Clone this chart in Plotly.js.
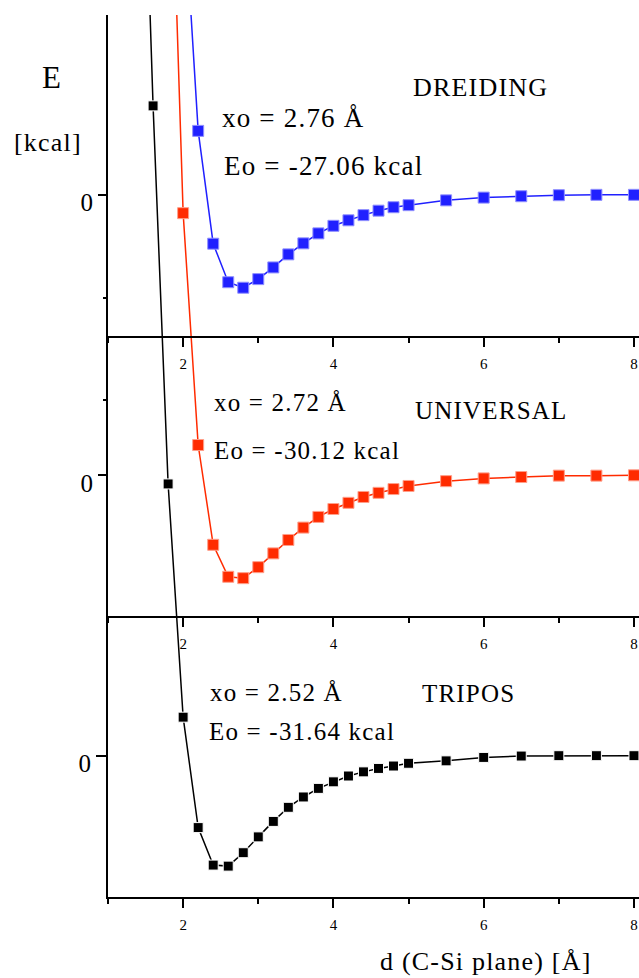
<!DOCTYPE html>
<html>
<head>
<meta charset="utf-8">
<script src="https://cdn.plot.ly/plotly-3.0.1.min.js"></script>
<style>
  html, body { margin: 0; padding: 0; background: #fff; }
  #chart { width: 639px; height: 978px; }
  .annotation-text { letter-spacing: 1.2px; }
</style>
</head>
<body>
<div id="chart"></div>
<script>
// ---- data: distance d (C-Si plane) [Å] and energy E [kcal] ----
const dTripos = [1.4, 1.6, 1.8, 2.0, 2.2, 2.4, 2.6, 2.8, 3.0, 3.2, 3.4, 3.6, 3.8, 4.0, 4.2, 4.4, 4.6, 4.8, 5.0, 5.5, 6.0, 6.5, 7.0, 7.5, 8.0];
const eTripos = [322, 188.9, 79.0, 11.2, -20.9, -31.8, -32.1, -28.2, -23.6, -19.1, -15.0, -12.0, -9.5, -7.6, -5.9, -4.7, -3.7, -3.0, -2.2, -1.5, -0.5, -0.1, 0, 0, 0];

const dUniversal = [1.8, 2.0, 2.2, 2.4, 2.6, 2.8, 3.0, 3.2, 3.4, 3.6, 3.8, 4.0, 4.2, 4.4, 4.6, 4.8, 5.0, 5.5, 6.0, 6.5, 7.0, 7.5, 8.0];
const eUniversal = [213, 76.2, 8.8, -20.2, -29.5, -29.9, -26.7, -22.7, -18.8, -15.2, -12.1, -9.8, -8.0, -6.3, -5.1, -4.0, -3.1, -1.7, -0.9, -0.5, -0.1, -0.1, 0];

const dDreiding = [2.0, 2.2, 2.4, 2.6, 2.8, 3.0, 3.2, 3.4, 3.6, 3.8, 4.0, 4.2, 4.4, 4.6, 4.8, 5.0, 5.5, 6.0, 6.5, 7.0, 7.5, 8.0];
const eDreiding = [89.5, 18.5, -14.3, -25.5, -27.1, -24.6, -21.2, -17.4, -14.2, -11.3, -9.1, -7.5, -6.0, -4.7, -3.7, -3.1, -1.7, -0.9, -0.5, -0.2, -0.1, -0.1];

const panelNames = ['DREIDING', 'UNIVERSAL', 'TRIPOS'];
const xoLabels = ['xo = 2.76 Å', 'xo = 2.72 Å', 'xo = 2.52 Å'];
const eoLabels = ['Eo = -27.06 kcal', 'Eo = -30.12 kcal', 'Eo = -31.64 kcal'];
const xTickVals = [2, 4, 6, 8];
const xTitle = 'd (C-Si plane) [Å]';
const yTitleTop = 'E';
const yTitleUnit = '[kcal]';

// ---- layout geometry (pixels) ----
const W = 639, H = 978;
const ML = 108, MR = 0, MT = 15, MB = 81;
const PW = W - ML - MR, PH = H - MT - MB;
const FONT = '"Liberation Serif", "Times New Roman", serif';
const px2x = px => (px - ML) / PW;
const py2y = py => (H - MB - py) / PH;

const traces = [
  {x: dTripos, y: eTripos, xaxis: 'x', yaxis: 'y', type: 'scatter', mode: 'lines+markers',
   line: {color: '#000000', width: 1.5},
   marker: {symbol: 'square', size: 10, color: '#000000', line: {color: '#ffffff', width: 1}}},
  {x: dUniversal, y: eUniversal, xaxis: 'x2', yaxis: 'y2', type: 'scatter', mode: 'lines+markers',
   line: {color: '#ff2b00', width: 1.5},
   marker: {symbol: 'square', size: 11, color: '#ff2b00', line: {color: '#ff9f8a', width: 1}}},
  {x: dDreiding, y: eDreiding, xaxis: 'x3', yaxis: 'y3', type: 'scatter', mode: 'lines+markers',
   line: {color: '#2020ff', width: 1.5},
   marker: {symbol: 'square', size: 11, color: '#2020ff', line: {color: '#9090ff', width: 1}}}
];

const xRange = [1, 8.067];
function xAxis(extra) {
  return Object.assign({
    range: xRange, tickmode: 'array', tickvals: xTickVals,
    ticks: 'outside', ticklen: 9, tickwidth: 2, tickcolor: '#000',
    showline: true, linewidth: 2, linecolor: '#000',
    showgrid: false, zeroline: false, fixedrange: true,
    tickfont: {family: FONT, size: 15, color: '#000'},
    ticklabelstandoff: 4,
    minor: {dtick: 1, tick0: 0, ticks: 'outside', ticklen: 5, tickwidth: 2, tickcolor: '#000', showgrid: false}
  }, extra);
}
function yAxis(range, minorVals, extra) {
  return Object.assign({
    range: range, tickmode: 'array', tickvals: [0], ticktext: ['0'],
    ticks: 'outside', ticklen: 10, tickwidth: 2, tickcolor: '#000',
    showgrid: false, zeroline: false, fixedrange: true,
    tickfont: {family: FONT, size: 25, color: '#000'},
    ticklabelshift: 8, ticklabelstandoff: 0,
    minor: {tickmode: 'array', tickvals: minorVals, ticks: minorVals.length ? 'outside' : '', ticklen: 5, tickwidth: 2, tickcolor: '#000', showgrid: false}
  }, extra);
}

const k = 3.44; // px per kcal
const zeroT = 755.7, zeroU = 475.3, zeroD = 194.5;
const rng = z => [-(H - MB - z) / k, (z - MT) / k];

function ann(text, px, py, size, xanchor) {
  return {text: text, xref: 'paper', yref: 'paper', x: px2x(px), y: py2y(py),
          xanchor: xanchor || 'left', yanchor: 'middle', showarrow: false,
          font: {family: FONT, size: size, color: '#000'}};
}

const layout = {
  width: W, height: H,
  margin: {l: ML, r: MR, t: MT, b: MB, autoexpand: false},
  paper_bgcolor: '#fff', plot_bgcolor: 'rgba(0,0,0,0)',
  showlegend: false,
  xaxis: xAxis({anchor: 'y'}),
  xaxis2: xAxis({overlaying: 'x', anchor: 'free', position: py2y(616.7)}),
  xaxis3: xAxis({overlaying: 'x', anchor: 'free', position: py2y(336.7)}),
  xaxis4: xAxis({overlaying: 'x', anchor: 'y', ticks: 'inside', showticklabels: false, showline: false,
                 minor: {dtick: 1, tick0: 0, ticks: 'inside', ticklen: 5, tickwidth: 2, tickcolor: '#000', showgrid: false}}),
  yaxis: yAxis(rng(zeroT), [], {anchor: 'x', showline: true, linewidth: 2, linecolor: '#000'}),
  yaxis2: yAxis(rng(zeroU), [21.9], {overlaying: 'y', anchor: 'free', position: 0, showline: false}),
  yaxis3: yAxis(rng(zeroD), [-30], {overlaying: 'y', anchor: 'free', position: 0, showline: false}),
  annotations: [
    ann(yTitleTop, 51.5, 77.5, 31, 'center'),
    ann(yTitleUnit, 47.5, 142, 26, 'center'),
    ann(panelNames[0], 411, 87.5, 26),
    ann(xoLabels[0], 220, 118, 27),
    ann(eoLabels[0], 222, 166, 27),
    ann(xoLabels[1], 212, 402, 25),
    ann(panelNames[1], 413, 410, 25),
    ann(eoLabels[1], 212, 450, 25),
    ann(xoLabels[2], 208, 692, 25),
    ann(panelNames[2], 420, 693.5, 25),
    ann(eoLabels[2], 207, 731.5, 25),
    ann(xTitle, 486, 962, 26, 'center')
  ]
};

Plotly.newPlot('chart', traces, layout, {staticPlot: true, displayModeBar: false});
</script>
</body>
</html>
